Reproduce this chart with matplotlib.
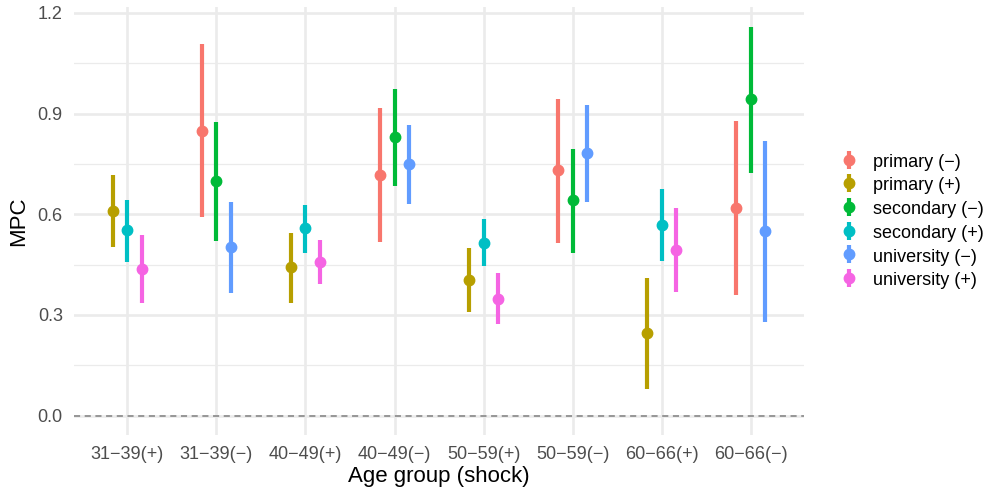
import numpy as np
import matplotlib.pyplot as plt

plt.rcParams['font.family'] = ['Liberation Sans', 'DejaVu Sans']

# x categories
ages = ["31\u221239(+)", "31\u221239(\u2212)", "40\u221249(+)", "40\u221249(\u2212)",
        "50\u221259(+)", "50\u221259(\u2212)", "60\u221266(+)", "60\u221266(\u2212)"]

groups = ["primary (\u2212)", "primary (+)", "secondary (\u2212)",
          "secondary (+)", "university (\u2212)", "university (+)"]
colors = ["#F8766D", "#B79F00", "#00BA38", "#00BFC4", "#619CFF", "#F564E3"]

# (+) categories: index 0,2,4,6 ; (-) categories: 1,3,5,7
pos_cats = [0, 2, 4, 6]
neg_cats = [1, 3, 5, 7]

# estimate, low, high per group
primary_neg = [0.849, 0.718, 0.731, 0.619]
primary_neg_lo = [0.591, 0.517, 0.514, 0.359]
primary_neg_hi = [1.107, 0.916, 0.945, 0.878]

primary_pos = [0.610, 0.442, 0.404, 0.246]
primary_pos_lo = [0.501, 0.336, 0.308, 0.080]
primary_pos_hi = [0.717, 0.544, 0.499, 0.410]

secondary_neg = [0.698, 0.830, 0.642, 0.943]
secondary_neg_lo = [0.520, 0.685, 0.486, 0.724]
secondary_neg_hi = [0.876, 0.973, 0.794, 1.159]

secondary_pos = [0.552, 0.558, 0.515, 0.569]
secondary_pos_lo = [0.458, 0.486, 0.447, 0.462]
secondary_pos_hi = [0.643, 0.627, 0.585, 0.676]

university_neg = [0.503, 0.750, 0.783, 0.549]
university_neg_lo = [0.366, 0.630, 0.638, 0.280]
university_neg_hi = [0.638, 0.865, 0.926, 0.817]

university_pos = [0.438, 0.458, 0.348, 0.495]
university_pos_lo = [0.336, 0.392, 0.273, 0.368]
university_pos_hi = [0.539, 0.524, 0.425, 0.619]

series = [
    (primary_neg, primary_neg_lo, primary_neg_hi, neg_cats, -1),
    (primary_pos, primary_pos_lo, primary_pos_hi, pos_cats, -1),
    (secondary_neg, secondary_neg_lo, secondary_neg_hi, neg_cats, 0),
    (secondary_pos, secondary_pos_lo, secondary_pos_hi, pos_cats, 0),
    (university_neg, university_neg_lo, university_neg_hi, neg_cats, 1),
    (university_pos, university_pos_lo, university_pos_hi, pos_cats, 1),
]

fig = plt.figure(figsize=(9.89, 4.93), dpi=100)
ax = fig.add_axes([0.0748, 0.1176, 0.7382, 0.8676])

dodge = 0.5 / 3
handles = []
for (est, lo, hi, cats, slot), name, col in zip(series, groups, colors):
    est = np.array(est)
    x = np.array(cats) + slot * dodge
    yerr = [est - np.array(lo), np.array(hi) - est]
    h = ax.errorbar(x, est, yerr=yerr, fmt='o', color=col, ms=7.5,
                    elinewidth=3.0, capsize=0, label=name, zorder=3)
    handles.append(h)

ax.axhline(0, color='#7F7F7F', ls=(0, (4, 3)), lw=1.1, zorder=2)

ax.set_xlim(-0.6, 7.6)
ax.set_ylim(-0.058, 1.217)
ax.set_xticks(range(len(ages)))
ax.set_xticklabels(ages)
ax.set_yticks([0.0, 0.3, 0.6, 0.9, 1.2])
ax.set_yticklabels(["0.0", "0.3", "0.6", "0.9", "1.2"])
ax.set_yticks([0.15, 0.45, 0.75, 1.05], minor=True)

ax.grid(which='major', color='#EBEBEB', lw=1.9)
ax.grid(which='minor', axis='y', color='#EBEBEB', lw=0.9)
ax.set_axisbelow(True)
for s in ax.spines.values():
    s.set_visible(False)
ax.tick_params(which='both', length=0, labelsize=13, labelcolor='#4D4D4D', pad=8)

ax.set_xlabel("Age group (shock)", fontsize=16, labelpad=2)
ax.set_ylabel("MPC", fontsize=16, labelpad=6)

fig.legend(handles=handles, labels=groups, loc='center left',
           bbox_to_anchor=(0.833, 0.552), frameon=False, fontsize=13,
           handlelength=1.0, handleheight=1.0, handletextpad=0.8,
           labelspacing=0.3)

fig.savefig("out.png", dpi=100)
